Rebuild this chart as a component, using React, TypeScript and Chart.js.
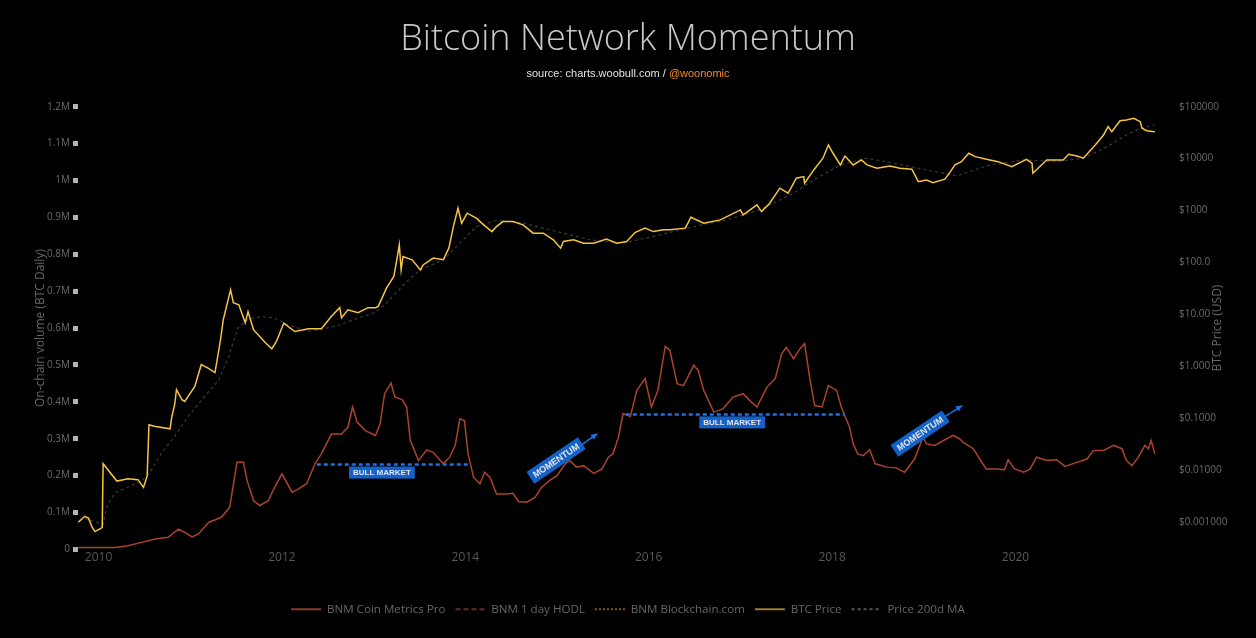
import React, { useEffect, useRef } from 'react';
import { Chart, registerables } from 'chart.js';

Chart.register(...registerables);

// ---------- Data ----------
const seriesNames = ['BNM Coin Metrics Pro', 'BNM 1 day HODL', 'BNM Blockchain.com', 'BTC Price', 'Price 200d MA'];

const yearTicks = [2010, 2012, 2014, 2016, 2018, 2020];
const volumeTicks = [0, 100000, 200000, 300000, 400000, 500000, 600000, 700000, 800000, 900000, 1000000, 1100000, 1200000];
const priceTicks = [0.001, 0.01, 0.1, 1, 10, 100, 1000, 10000, 100000];
const priceTickLabels = ['$0.001000', '$0.01000', '$0.1000', '$1.000', '$10.00', '$100.0', '$1000', '$10000', '$100000'];

// [year, BTC volume]
const bnmCoinMetrics: [number, number][] = [
  [2009.78, 5000], [2010.18, 5000], [2010.32, 10000], [2010.47, 19000], [2010.62, 28000], [2010.76, 33000],
  [2010.87, 55000], [2010.94, 46000], [2011.02, 34000], [2011.09, 42000], [2011.2, 73000], [2011.34, 87000],
  [2011.43, 114000], [2011.51, 236000], [2011.58, 236000], [2011.62, 187000], [2011.69, 132000], [2011.76, 119000],
  [2011.85, 132000], [2011.92, 168000], [2012.0, 205000], [2012.11, 155000], [2012.18, 164000], [2012.27, 178000],
  [2012.36, 232000], [2012.43, 259000], [2012.54, 313000], [2012.65, 313000], [2012.72, 331000], [2012.77, 386000],
  [2012.82, 345000], [2012.91, 322000], [2013.02, 309000], [2013.07, 340000], [2013.12, 422000], [2013.19, 451000],
  [2013.23, 413000], [2013.31, 406000], [2013.36, 386000], [2013.4, 295000], [2013.49, 241000], [2013.58, 270000],
  [2013.65, 263000], [2013.76, 232000], [2013.83, 250000], [2013.89, 282000], [2013.94, 354000], [2013.99, 349000],
  [2014.03, 259000], [2014.09, 195000], [2014.16, 178000], [2014.21, 209000], [2014.27, 195000], [2014.34, 150000],
  [2014.45, 150000], [2014.52, 152000], [2014.58, 130000], [2014.67, 128000], [2014.76, 141000], [2014.83, 168000],
  [2014.92, 187000], [2015.0, 200000], [2015.09, 232000], [2015.14, 241000], [2015.21, 223000], [2015.29, 227000],
  [2015.4, 206000], [2015.49, 218000], [2015.56, 250000], [2015.61, 259000], [2015.67, 304000], [2015.72, 368000],
  [2015.8, 360000], [2015.87, 431000], [2015.96, 463000], [2016.03, 386000], [2016.1, 431000], [2016.18, 550000],
  [2016.23, 540000], [2016.31, 449000], [2016.38, 444000], [2016.49, 499000], [2016.54, 485000], [2016.6, 431000],
  [2016.71, 372000], [2016.81, 381000], [2016.92, 413000], [2017.03, 422000], [2017.1, 404000], [2017.18, 386000],
  [2017.29, 440000], [2017.38, 463000], [2017.45, 530000], [2017.5, 548000], [2017.58, 517000], [2017.65, 544000],
  [2017.7, 558000], [2017.76, 458000], [2017.81, 390000], [2017.89, 386000], [2017.96, 444000], [2018.05, 431000],
  [2018.1, 386000], [2018.19, 331000], [2018.23, 286000], [2018.28, 259000], [2018.34, 254000], [2018.41, 270000],
  [2018.47, 232000], [2018.6, 223000], [2018.7, 221000], [2018.79, 209000], [2018.9, 245000], [2018.99, 304000],
  [2019.03, 286000], [2019.12, 282000], [2019.25, 300000], [2019.32, 309000], [2019.39, 300000], [2019.43, 290000],
  [2019.54, 273000], [2019.61, 245000], [2019.68, 218000], [2019.79, 218000], [2019.88, 216000], [2019.92, 243000],
  [2019.99, 218000], [2020.09, 209000], [2020.16, 218000], [2020.23, 250000], [2020.34, 241000], [2020.45, 243000],
  [2020.54, 225000], [2020.67, 236000], [2020.78, 245000], [2020.85, 268000], [2020.96, 268000], [2021.07, 282000],
  [2021.16, 273000], [2021.21, 241000], [2021.27, 227000], [2021.34, 250000], [2021.41, 282000], [2021.45, 273000],
  [2021.48, 295000], [2021.52, 259000],
];
const bnmHodl: [number, number][] = [];
const bnmBlockchain: [number, number][] = [];

// [year, USD]
const btcPrice: [number, number][] = [
  [2009.78, 0.001], [2009.85, 0.0013], [2009.89, 0.0012], [2009.93, 0.0008], [2009.96, 0.00066], [2010.02, 0.00075],
  [2010.04, 0.0008], [2010.05, 0.0134], [2010.2, 0.0062], [2010.32, 0.0069], [2010.43, 0.0066], [2010.49, 0.0047],
  [2010.53, 0.0077], [2010.55, 0.0755], [2010.62, 0.07], [2010.78, 0.063], [2010.8, 0.11], [2010.83, 0.183],
  [2010.85, 0.356], [2010.91, 0.229], [2010.94, 0.212], [2011.05, 0.41], [2011.12, 1.08], [2011.19, 0.94],
  [2011.27, 0.76], [2011.33, 3.26], [2011.36, 7.9], [2011.44, 29.9], [2011.47, 16.8], [2011.53, 15.4],
  [2011.6, 6.9], [2011.63, 11.4], [2011.69, 5.1], [2011.82, 2.86], [2011.89, 2.19], [2011.94, 3.03],
  [2012.02, 6.8], [2012.14, 4.7], [2012.29, 5.3], [2012.43, 5.3], [2012.54, 9.2], [2012.63, 13.5],
  [2012.65, 8.65], [2012.72, 12.3], [2012.83, 10.8], [2012.94, 13.5], [2013.02, 13.5], [2013.05, 14.3],
  [2013.14, 32.2], [2013.22, 53.8], [2013.25, 105], [2013.28, 219], [2013.3, 72], [2013.32, 130],
  [2013.42, 113], [2013.51, 72], [2013.54, 90], [2013.65, 122], [2013.76, 113], [2013.82, 189],
  [2013.87, 492], [2013.92, 1110], [2013.96, 573], [2014.02, 891], [2014.12, 714], [2014.2, 531],
  [2014.29, 394], [2014.34, 492], [2014.41, 614], [2014.52, 614], [2014.63, 531], [2014.74, 367],
  [2014.85, 367], [2014.96, 273], [2015.04, 189], [2015.07, 254], [2015.18, 273], [2015.29, 236],
  [2015.4, 236], [2015.54, 282], [2015.65, 236], [2015.76, 254], [2015.85, 378], [2015.96, 459],
  [2016.05, 394], [2016.16, 426], [2016.23, 426], [2016.4, 459], [2016.46, 746], [2016.6, 573],
  [2016.78, 662], [2017.0, 1030], [2017.03, 826], [2017.18, 1288], [2017.23, 957], [2017.32, 1387],
  [2017.43, 2698], [2017.52, 2162], [2017.61, 4200], [2017.69, 4508], [2017.7, 3363], [2017.8, 6067],
  [2017.9, 10190], [2017.96, 18330], [2018.01, 12700], [2018.09, 7570], [2018.14, 11270], [2018.23, 7570],
  [2018.32, 9440], [2018.38, 7570], [2018.49, 6530], [2018.63, 7240], [2018.74, 6530], [2018.87, 6250],
  [2018.94, 3610], [2019.03, 3890], [2019.1, 3450], [2019.23, 4020], [2019.29, 5620], [2019.34, 7570],
  [2019.41, 8750], [2019.49, 12700], [2019.56, 10920], [2019.72, 9440], [2019.81, 8750], [2019.96, 7020],
  [2020.12, 9720], [2020.18, 8160], [2020.19, 5240], [2020.34, 9440], [2020.52, 9440], [2020.58, 12160],
  [2020.67, 11270], [2020.74, 10190], [2020.87, 18330], [2020.96, 28560], [2021.01, 41250], [2021.05, 33030],
  [2021.14, 53800], [2021.21, 55470], [2021.29, 59840], [2021.36, 51500], [2021.38, 38430], [2021.43, 34540],
  [2021.52, 33030],
];

const price200dMA: [number, number][] = [
  [2009.85, 0.00118], [2010.05, 0.00091], [2010.09, 0.002], [2010.18, 0.0037], [2010.47, 0.0062], [2010.56, 0.0091],
  [2010.69, 0.022], [2010.83, 0.045], [2010.98, 0.11], [2011.13, 0.23], [2011.31, 0.55], [2011.42, 1.55],
  [2011.52, 5.5], [2011.63, 8.1], [2011.78, 9.1], [2011.92, 8.5], [2012.07, 6.3], [2012.29, 4.7],
  [2012.58, 5.9], [2012.83, 8.5], [2013.02, 11.0], [2013.14, 16.6], [2013.36, 43], [2013.51, 72],
  [2013.76, 113], [2013.94, 236], [2014.12, 492], [2014.34, 643], [2014.63, 573], [2015.0, 394],
  [2015.36, 273], [2015.72, 236], [2016.12, 340], [2016.49, 492], [2016.85, 662], [2017.21, 1030],
  [2017.58, 2162], [2017.8, 3890], [2018.09, 7570], [2018.38, 10190], [2018.67, 8160], [2019.03, 6067],
  [2019.36, 4650], [2019.72, 7570], [2020.08, 9440], [2020.45, 8750], [2020.74, 10190], [2021.0, 16980],
  [2021.21, 28560], [2021.36, 38430], [2021.52, 44460],
];

// Annotations (data coordinates)
const bullMarkets = [
  { label: 'BULL MARKET', start: 2012.38, end: 2014.05, level: 230000, labelYear: 2013.09 },
  { label: 'BULL MARKET', start: 2015.75, end: 2018.14, level: 366000, labelYear: 2016.91 },
];
const momentumNotes = [
  { label: 'MOMENTUM', year: 2014.99, value: 241000, fromYear: 2015.26, fromValue: 282000, toYear: 2015.44, toValue: 314000 },
  { label: 'MOMENTUM', year: 2018.96, value: 314000, fromYear: 2019.23, fromValue: 360000, toYear: 2019.42, toValue: 390000 },
];

// ---------- Styles ----------
const lineColors = ['#a9442b', '#6b2b1b', '#7d5a1e', '#f5c444', '#3a3a3a'];
const legendColors = ['#8b3b26', '#6b2b1b', '#7d5a1e', '#9c7e3a', '#555555'];
const legendDashes = [[], [5, 3], [2, 2], [], [3, 3]];
const FONT = '"Open Sans", "DejaVu Sans", sans-serif';
const ARIAL = '"Liberation Sans", Arial, sans-serif';

const toPoints = (s: [number, number][]) => s.map(([x, y]) => ({ x, y }));

const overlayPlugin = {
  id: 'overlay',
  afterDatasetsDraw(chart: any) {
    const ctx = chart.ctx;
    const xs = chart.scales.x;
    const ys = chart.scales.yVol;
    ctx.save();
    for (const b of bullMarkets) {
      const x1 = xs.getPixelForValue(b.start);
      const x2 = xs.getPixelForValue(b.end);
      const yy = ys.getPixelForValue(b.level);
      ctx.strokeStyle = '#1f6fe6';
      ctx.lineWidth = 2.5;
      ctx.setLineDash([4, 3]);
      ctx.beginPath();
      ctx.moveTo(x1, yy);
      ctx.lineTo(x2, yy);
      ctx.stroke();
      ctx.setLineDash([]);
      const cx = xs.getPixelForValue(b.labelYear);
      ctx.font = 'bold 8px ' + ARIAL;
      const w = ctx.measureText(b.label).width + 8;
      ctx.fillStyle = '#1262c9';
      ctx.fillRect(cx - w / 2, yy + 2, w, 12);
      ctx.fillStyle = '#e4e4e4';
      ctx.textAlign = 'center';
      ctx.textBaseline = 'middle';
      ctx.fillText(b.label, cx, yy + 8.5);
    }
    for (const m of momentumNotes) {
      const cx = xs.getPixelForValue(m.year);
      const cy = ys.getPixelForValue(m.value);
      ctx.save();
      ctx.translate(cx, cy);
      ctx.rotate((-34 * Math.PI) / 180);
      ctx.font = 'bold 9px ' + ARIAL;
      const w = ctx.measureText(m.label).width + 8;
      ctx.fillStyle = '#1262c9';
      ctx.fillRect(-w / 2, -7, w, 14);
      ctx.fillStyle = '#e4e4e4';
      ctx.textAlign = 'center';
      ctx.textBaseline = 'middle';
      ctx.fillText(m.label, 0, 0.5);
      ctx.restore();
      const ax1 = xs.getPixelForValue(m.fromYear);
      const ay1 = ys.getPixelForValue(m.fromValue);
      const ax2 = xs.getPixelForValue(m.toYear);
      const ay2 = ys.getPixelForValue(m.toValue);
      ctx.strokeStyle = '#1f6fe6';
      ctx.fillStyle = '#1f6fe6';
      ctx.lineWidth = 1.5;
      ctx.beginPath();
      ctx.moveTo(ax1, ay1);
      ctx.lineTo(ax2, ay2);
      ctx.stroke();
      const ang = Math.atan2(ay2 - ay1, ax2 - ax1);
      const hl = 7;
      ctx.beginPath();
      ctx.moveTo(ax2, ay2);
      ctx.lineTo(ax2 - hl * Math.cos(ang - 0.45), ay2 - hl * Math.sin(ang - 0.45));
      ctx.lineTo(ax2 - hl * Math.cos(ang + 0.45), ay2 - hl * Math.sin(ang + 0.45));
      ctx.closePath();
      ctx.fill();
    }
    ctx.restore();
  },
  afterDraw(chart: any) {
    const ctx = chart.ctx;
    ctx.save();
    ctx.font = '11px ' + ARIAL;
    const a = 'source: charts.woobull.com / ';
    const b = '@woonomic';
    const wa = ctx.measureText(a).width;
    const wb = ctx.measureText(b).width;
    const sx = chart.width / 2 - (wa + wb) / 2;
    ctx.textAlign = 'left';
    ctx.textBaseline = 'middle';
    ctx.fillStyle = '#e2e2e2';
    ctx.fillText(a, sx, 74);
    ctx.fillStyle = '#f08a24';
    ctx.fillText(b, sx + wa, 74);
    const area = chart.chartArea;
    ctx.translate(1218, (area.top + area.bottom) / 2);
    ctx.rotate(-Math.PI / 2);
    ctx.font = '12px ' + FONT;
    ctx.fillStyle = '#666666';
    ctx.textAlign = 'center';
    ctx.textBaseline = 'middle';
    ctx.fillText('BTC Price (USD)', 0, 0);
    ctx.restore();
  },
};

export default function App() {
  const ref = useRef<HTMLCanvasElement>(null);

  useEffect(() => {
    if (!ref.current) return;
    Chart.defaults.font.family = FONT;
    const seriesData = [bnmCoinMetrics, bnmHodl, bnmBlockchain, btcPrice, price200dMA];
    const axisIds = ['yVol', 'yVol', 'yVol', 'yPrice', 'yPrice'];
    const widths = [1.5, 1.5, 1.5, 1.5, 1.2];
    const chart = new Chart(ref.current, {
      type: 'line',
      data: {
        datasets: seriesNames.map((name, i) => ({
          label: name,
          data: toPoints(seriesData[i]),
          yAxisID: axisIds[i],
          borderColor: lineColors[i],
          backgroundColor: lineColors[i],
          borderWidth: widths[i],
          borderDash: legendDashes[i] as number[],
          pointRadius: 0,
          tension: 0,
          fill: false,
        })),
      },
      options: {
        animation: false,
        responsive: false,
        maintainAspectRatio: false,
        layout: { padding: { top: 0, bottom: 13, left: 0, right: 0 } },
        scales: {
          x: {
            type: 'linear',
            min: 2009.776,
            max: 2021.576,
            afterBuildTicks: (s: any) => {
              s.ticks = yearTicks.map((v) => ({ value: v }));
            },
            afterFit: (s: any) => {
              s.height = 44;
            },
            grid: { display: false, drawTicks: false },
            border: { display: false },
            ticks: {
              color: '#585858',
              font: { size: 12 },
              padding: 1,
              maxRotation: 0,
              callback: (v: any) => String(v),
            },
          },
          yVol: {
            type: 'linear',
            position: 'left',
            min: 0,
            max: 1200000,
            afterBuildTicks: (s: any) => {
              s.ticks = volumeTicks.map((v) => ({ value: v }));
            },
            afterFit: (s: any) => {
              s.width = 78;
            },
            grid: {
              display: true,
              drawOnChartArea: false,
              drawTicks: true,
              tickLength: 5,
              tickWidth: 5,
              tickColor: '#b4b4b4',
            },
            border: { display: false },
            ticks: {
              color: '#6a6a6a',
              font: { size: 10 },
              padding: 3,
              callback: (v: any) => (v === 0 ? '0' : `${Math.round(v / 100000) / 10}M`),
            },
            title: {
              display: true,
              text: 'On-chain volume (BTC Daily)',
              color: '#666666',
              font: { size: 12 },
              padding: { top: 33, bottom: 0 },
            },
          },
          yPrice: {
            type: 'logarithmic',
            position: 'right',
            min: Math.pow(10, -3.5),
            max: 100000,
            afterBuildTicks: (s: any) => {
              s.ticks = priceTicks.map((v) => ({ value: v }));
            },
            afterFit: (s: any) => {
              s.width = 96;
            },
            grid: { display: false, drawTicks: false },
            border: { display: false },
            ticks: {
              color: '#6a6a6a',
              font: { size: 10 },
              padding: 19,
              callback: (v: any) => {
                const i = priceTicks.indexOf(v);
                return i >= 0 ? priceTickLabels[i] : '';
              },
            },
          },
        },
        plugins: {
          title: {
            display: true,
            text: 'Bitcoin Network Momentum',
            color: '#c8c8c8',
            font: { size: 36, weight: '300' as any, family: FONT },
            padding: { top: 18, bottom: 45.5 },
          },
          legend: {
            display: true,
            position: 'bottom',
            labels: {
              usePointStyle: true,
              pointStyleWidth: 30,
              padding: 10,
              color: '#666666',
              font: { size: 11.6 },
              generateLabels: () =>
                seriesNames.map((name, i) => ({
                  text: name,
                  fillStyle: legendColors[i],
                  strokeStyle: legendColors[i],
                  fontColor: '#666666',
                  lineWidth: 2,
                  lineDash: legendDashes[i],
                  pointStyle: 'line',
                  hidden: false,
                  datasetIndex: i,
                })),
            },
          },
          tooltip: { enabled: false },
        },
      },
      plugins: [overlayPlugin],
    } as any);
    return () => chart.destroy();
  }, []);

  return (
    <div style={{ position: 'fixed', left: 0, top: 0, width: 1256, height: 638, background: '#000' }}>
      <canvas ref={ref} width={1256} height={638} style={{ display: 'block', width: 1256, height: 638 }} />
    </div>
  );
}
